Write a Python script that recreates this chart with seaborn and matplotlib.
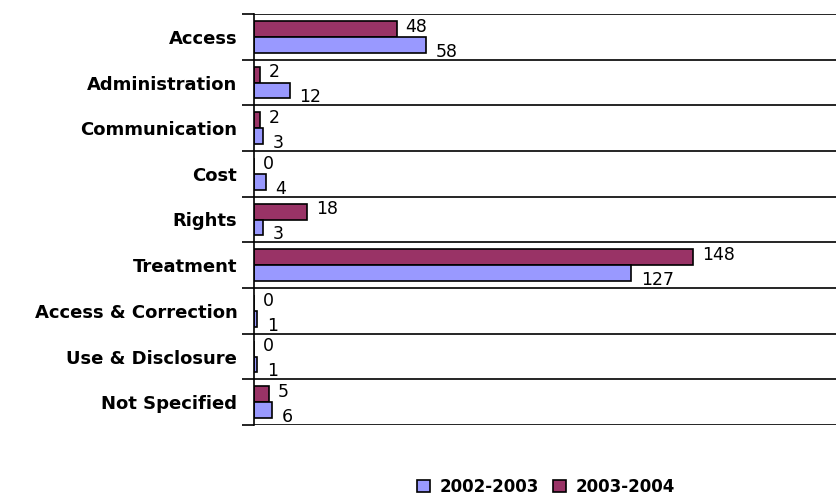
import matplotlib
matplotlib.use("Agg")
import matplotlib.pyplot as plt
import seaborn as sns
import pandas as pd
from matplotlib.patches import Patch

categories = ["Access", "Administration", "Communication", "Cost", "Rights",
              "Treatment", "Access & Correction", "Use & Disclosure", "Not Specified"]
vals_2002_2003 = [58, 12, 3, 4, 3, 127, 1, 1, 6]
vals_2003_2004 = [48, 2, 2, 0, 18, 148, 0, 0, 5]
series = ["2002-2003", "2003-2004"]
colors = {"2002-2003": "#9999FF", "2003-2004": "#993366"}

df = pd.DataFrame({
    "category": categories * 2,
    "value": vals_2002_2003 + vals_2003_2004,
    "period": [series[0]] * len(categories) + [series[1]] * len(categories),
})

sns.set_style("white")
plt.rcParams["font.family"] = ["DejaVu Sans"]
plt.rcParams["text.color"] = "black"
plt.rcParams["ytick.color"] = "black"
plt.rcParams["ytick.labelcolor"] = "black"

fig = plt.figure(figsize=(8.36, 4.96), dpi=100)
ax = fig.add_axes([254 / 836, 71 / 496, 582 / 836, 411 / 496])

sns.barplot(data=df, y="category", x="value", hue="period", orient="h",
            hue_order=["2003-2004", "2002-2003"], order=categories,
            palette=colors, saturation=1, width=0.7, edgecolor="black",
            linewidth=1.2, legend=False, ax=ax)

ax.set_xlim(0, 196)
ax.set_ylim(len(categories) - 0.5, -0.5)
ax.set_xlabel("")
ax.set_ylabel("")
ax.set_xticks([])

bounds = [i - 0.5 for i in range(len(categories) + 1)]
ax.set_yticks(bounds, minor=True)
ax.tick_params(axis="y", which="minor", length=9, width=1.2, color="black", left=True)
ax.tick_params(axis="y", which="major", length=0, pad=12)
ax.grid(True, axis="y", which="minor", color="black", linewidth=1.2)
ax.grid(False, axis="y", which="major")
for lbl in ax.get_yticklabels():
    lbl.set_fontweight("bold")
    lbl.set_fontsize(13)
    lbl.set_color("black")

for s in ["top", "right", "bottom"]:
    ax.spines[s].set_visible(False)
ax.spines["left"].set_color("black")
ax.spines["left"].set_linewidth(1.2)

for i, (a, b) in enumerate(zip(vals_2003_2004, vals_2002_2003)):
    ax.annotate(str(a), xy=(a, i - 0.175), xytext=(6.5, 1.5), textcoords="offset points",
                ha="left", va="center", fontsize=12.5, color="black")
    ax.annotate(str(b), xy=(b, i + 0.175), xytext=(7, -5), textcoords="offset points",
                ha="left", va="center", fontsize=12.5, color="black")

handles = [Patch(facecolor=colors[s], edgecolor="black", linewidth=1.2) for s in series]
fig.legend(handles, series, loc="center", bbox_to_anchor=(546 / 836, 1 - 487 / 496),
           ncol=2, frameon=False, handlelength=0.78, handleheight=0.78,
           handletextpad=0.6, columnspacing=0.8, borderpad=0.2,
           prop={"weight": "bold", "size": 12})

fig.savefig("out.png", dpi=100)
